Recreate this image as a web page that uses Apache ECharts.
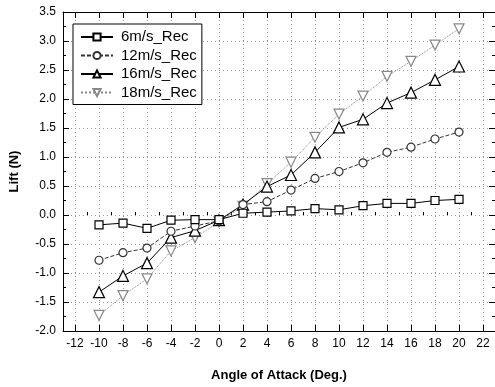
<!DOCTYPE html>
<html>
<head>
<meta charset="utf-8">
<script src="https://cdn.jsdelivr.net/npm/echarts@6/dist/echarts.min.js"></script>
<style>html,body{margin:0;padding:0;background:#fff}#c{width:495px;height:387px}</style>
</head>
<body>
<div id="c"></div>
<script>
const angles = [-10, -8, -6, -4, -2, 0, 2, 4, 6, 8, 10, 12, 14, 16, 18, 20];
const seriesNames = ['6m/s_Rec', '12m/s_Rec', '16m/s_Rec', '18m/s_Rec'];
const lift6 = [-0.17, -0.14, -0.23, -0.09, -0.08, -0.08, 0.03, 0.05, 0.07, 0.11, 0.09, 0.16, 0.20, 0.20, 0.25, 0.27];
const lift12 = [-0.78, -0.65, -0.57, -0.28, -0.19, -0.10, 0.18, 0.23, 0.43, 0.63, 0.75, 0.90, 1.08, 1.17, 1.31, 1.43];
const lift16 = [-1.33, -1.05, -0.83, -0.39, -0.27, -0.09, 0.18, 0.49, 0.69, 1.08, 1.51, 1.65, 1.93, 2.11, 2.33, 2.56];
const lift18 = [-1.73, -1.39, -1.10, -0.62, -0.39, -0.12, 0.15, 0.54, 0.91, 1.34, 1.74, 2.05, 2.39, 2.65, 2.93, 3.21];
const xMajorTicks = [-12, -10, -8, -6, -4, -2, 0, 2, 4, 6, 8, 10, 12, 14, 16, 18, 20, 22];
const xMinorTicks = [-13, -11, -9, -7, -5, -3, -1, 1, 3, 5, 7, 9, 11, 13, 15, 17, 19, 21, 23];
const xLabel = 'Angle of Attack (Deg.)';
const yLabel = 'Lift (N)';

const pair = arr => angles.map((a, i) => [a, arr[i]]);
const font = 'Liberation Sans, Arial, sans-serif';

const styles = [
  {data: lift6, symbol: 'rect', size: 8, rotate: 0, color: '#000', type: 'solid'},
  {data: lift12, symbol: 'circle', size: 8, rotate: 0, color: '#333', type: [4, 2]},
  {data: lift16, symbol: 'triangle', size: 11, rotate: 0, color: '#000', type: 'solid'},
  {data: lift18, symbol: 'triangle', size: 10, rotate: 180, color: '#888', type: 'dotted'}
];

const chart = echarts.init(document.getElementById('c'), null, {renderer: 'canvas'});
const line = {show: true, onZero: false, lineStyle: {color: '#000', width: 1}};
const tickStyle = {color: '#000', width: 1};
const gridStyle = {color: '#999', type: [1, 3], width: 1};
const xRange = {type: 'value', min: -13, max: 23};
chart.setOption({
  animation: false,
  backgroundColor: '#fff',
  textStyle: {fontFamily: font},
  grid: {left: 63, top: 12, width: 435, height: 323, containLabel: false},
  legend: {
    data: seriesNames,
    orient: 'vertical',
    left: 73, top: 24,
    borderColor: '#000', borderWidth: 1,
    padding: [4, 5, 3, 7],
    itemWidth: 32, itemHeight: 9, itemGap: 0.5,
    textStyle: {fontFamily: font, fontSize: 15, lineHeight: 18, color: '#000', padding: [0, 0, 0, 3]},
    backgroundColor: '#fff'
  },
  xAxis: [
    Object.assign({}, xRange, {
      position: 'bottom',
      name: xLabel, nameLocation: 'middle', nameGap: 38,
      nameTextStyle: {fontFamily: font, fontSize: 13, fontWeight: 'bold', color: '#000'},
      axisLine: line,
      axisTick: {show: true, inside: true, length: 6, lineStyle: tickStyle, customValues: xMajorTicks},
      axisLabel: {fontFamily: font, fontSize: 12, color: '#000', margin: 7, customValues: xMajorTicks},
      splitLine: {show: true, lineStyle: gridStyle}
    }),
    Object.assign({}, xRange, {
      position: 'bottom',
      axisLine: {show: false},
      axisTick: {show: true, inside: true, length: 3, lineStyle: tickStyle, customValues: xMinorTicks},
      axisLabel: {show: false},
      splitLine: {show: false}
    }),
    Object.assign({}, xRange, {
      position: 'top',
      axisLine: line,
      axisTick: {show: true, inside: true, length: 6, lineStyle: tickStyle, customValues: xMajorTicks},
      axisLabel: {show: false},
      splitLine: {show: false}
    })
  ],
  yAxis: [
    {
      type: 'value', min: -2, max: 3.5, interval: 0.5, position: 'left',
      name: yLabel, nameLocation: 'middle', nameGap: 42,
      nameTextStyle: {fontFamily: font, fontSize: 13, fontWeight: 'bold', color: '#000'},
      axisLine: line,
      axisTick: {show: true, inside: true, length: 6, lineStyle: tickStyle},
      minorTick: {show: true, splitNumber: 2, length: 3, lineStyle: tickStyle},
      axisLabel: {fontFamily: font, fontSize: 12, color: '#000', margin: 7,
        formatter: v => v.toFixed(1)},
      splitLine: {show: true, lineStyle: gridStyle}
    },
    {
      type: 'value', min: -2, max: 3.5, interval: 0.5, position: 'right',
      axisLine: line,
      axisTick: {show: true, inside: true, length: 6, lineStyle: tickStyle},
      minorTick: {show: true, splitNumber: 2, length: 3, lineStyle: tickStyle},
      axisLabel: {show: false}, splitLine: {show: false}
    }
  ],
  series: styles.map((s, i) => ({
    name: seriesNames[i],
    type: 'line',
    xAxisIndex: 0, yAxisIndex: 0,
    data: pair(s.data),
    symbol: s.symbol,
    symbolSize: s.size,
    symbolRotate: s.rotate,
    showAllSymbol: true,
    lineStyle: {color: s.color, width: 1, type: s.type},
    itemStyle: {color: '#fff', borderColor: s.color, borderWidth: 1.2},
    z: 10 - i
  }))
});
</script>
</body>
</html>
